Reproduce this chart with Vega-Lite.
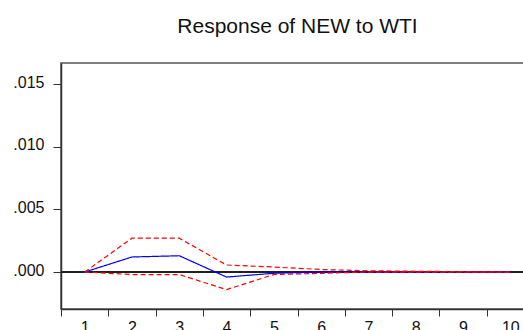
{
  "$schema": "https://vega.github.io/schema/vega-lite/v6.json",
  "autosize": "none",
  "padding": {"left": 61, "top": 63, "right": 0, "bottom": 21},
  "width": 473,
  "height": 246,
  "title": {
    "text": "Response of NEW to WTI",
    "font": "Liberation Sans",
    "fontSize": 21,
    "fontWeight": "normal",
    "color": "#111",
    "anchor": "middle",
    "offset": 26
  },
  "config": {
    "view": {"stroke": "#555", "strokeWidth": 1.5},
    "axis": {
      "labelFont": "Liberation Sans",
      "labelFontSize": 16,
      "labelColor": "#111",
      "domainColor": "#333",
      "tickColor": "#333",
      "grid": false,
      "title": null
    }
  },
  "data": {
    "values": [
      {"period": 1, "series": "Response", "value": 0.0},
      {"period": 2, "series": "Response", "value": 0.0012},
      {"period": 3, "series": "Response", "value": 0.0013},
      {"period": 4, "series": "Response", "value": -0.0004},
      {"period": 5, "series": "Response", "value": -0.0001},
      {"period": 6, "series": "Response", "value": 0.0},
      {"period": 7, "series": "Response", "value": 0.0},
      {"period": 8, "series": "Response", "value": 0.0},
      {"period": 9, "series": "Response", "value": 0.0},
      {"period": 10, "series": "Response", "value": 0.0},
      {"period": 1, "series": "Upper", "value": 0.0},
      {"period": 2, "series": "Upper", "value": 0.0027},
      {"period": 3, "series": "Upper", "value": 0.0027},
      {"period": 4, "series": "Upper", "value": 0.00056},
      {"period": 5, "series": "Upper", "value": 0.0004},
      {"period": 6, "series": "Upper", "value": 0.0002},
      {"period": 7, "series": "Upper", "value": 0.0001},
      {"period": 8, "series": "Upper", "value": 0.00006},
      {"period": 9, "series": "Upper", "value": 0.00003},
      {"period": 10, "series": "Upper", "value": 0.0},
      {"period": 1, "series": "Lower", "value": 0.0},
      {"period": 2, "series": "Lower", "value": -0.0002},
      {"period": 3, "series": "Lower", "value": -0.0002},
      {"period": 4, "series": "Lower", "value": -0.0014},
      {"period": 5, "series": "Lower", "value": -0.0002},
      {"period": 6, "series": "Lower", "value": -0.0001},
      {"period": 7, "series": "Lower", "value": 0.0},
      {"period": 8, "series": "Lower", "value": 0.0},
      {"period": 9, "series": "Lower", "value": 0.0},
      {"period": 10, "series": "Lower", "value": 0.0}
    ]
  },
  "layer": [
    {
      "mark": {"type": "rule", "color": "#222", "strokeWidth": 1},
      "encoding": {"y": {"datum": 0, "type": "quantitative"}}
    },
    {
      "mark": {"type": "line", "strokeWidth": 1.2},
      "encoding": {
        "x": {
          "field": "period",
          "type": "ordinal",
          "scale": {"type": "band", "paddingInner": 0, "paddingOuter": 0},
          "axis": {
            "labelAngle": 0,
            "tickBand": "extent",
            "tickSize": 7,
            "labelPadding": 3,
            "domainWidth": 1.5
          }
        },
        "y": {
          "field": "value",
          "type": "quantitative",
          "scale": {"domain": [-0.00295, 0.01668], "nice": false, "zero": false},
          "axis": {
            "values": [0, 0.005, 0.01, 0.015],
            "labelExpr": "replace(format(datum.value, '.3f'), '0.', '.')",
            "tickSize": 8,
            "labelPadding": 9,
            "labelOffset": -2,
            "domainWidth": 1.5
          }
        },
        "color": {
          "field": "series",
          "type": "nominal",
          "scale": {"domain": ["Response", "Upper", "Lower"], "range": ["#0000ff", "#ff0000", "#ff0000"]},
          "legend": null
        },
        "strokeDash": {
          "field": "series",
          "type": "nominal",
          "scale": {"domain": ["Response", "Upper", "Lower"], "range": [[1, 0], [5, 3], [5, 3]]},
          "legend": null
        }
      }
    }
  ]
}
